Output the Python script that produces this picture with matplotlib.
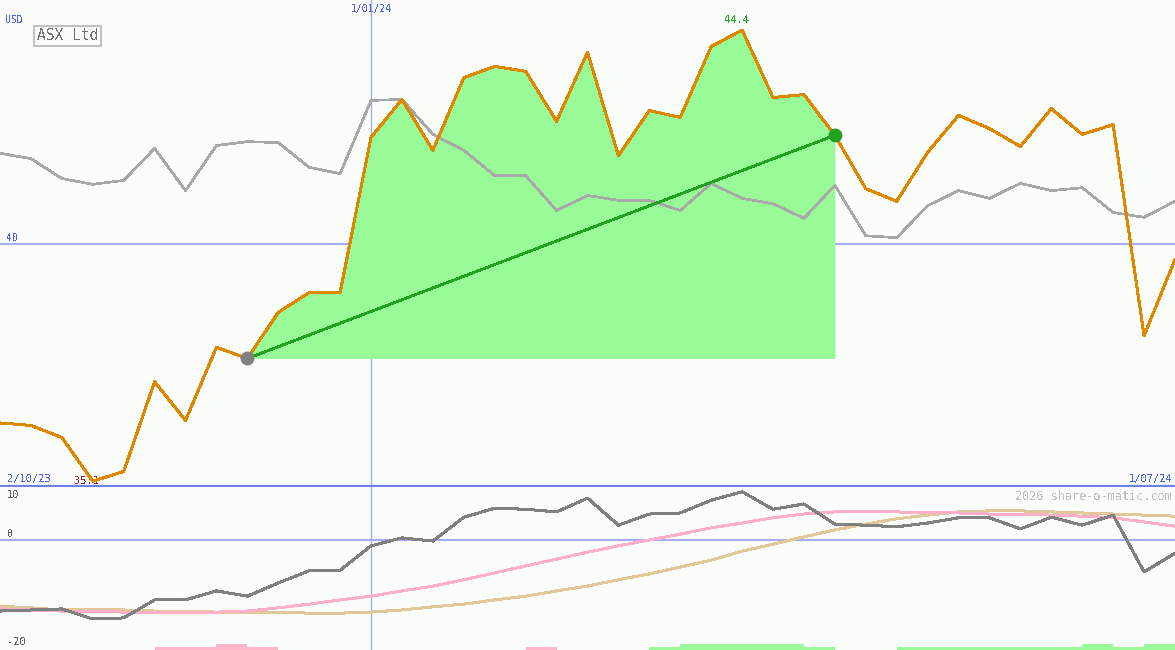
import numpy as np
import matplotlib
matplotlib.use("Agg")
import matplotlib.pyplot as plt

plt.rcParams['font.family'] = ['DejaVu Sans Mono']
plt.rcParams['text.antialiased'] = False

# weekly closes, ASX Ltd (USD), 2/10/23 .. 1/07/24
price = [36.3, 36.25, 36.0, 35.1, 35.3, 37.15, 36.35, 37.86, 37.63, 38.58,
         38.99, 38.99, 42.19, 42.97, 41.92, 43.42, 43.65, 43.55, 42.52, 43.94,
         41.81, 42.74, 42.6, 44.06, 44.4, 43.01, 43.07, 42.23, 41.13, 40.87,
         41.88, 42.64, 42.37, 42.0, 42.78, 42.25, 42.45, 38.1, 39.67]
# comparison index, rescaled to price axis
compare = [41.86, 41.75, 41.34, 41.22, 41.3, 41.96, 41.09, 42.02, 42.1, 42.08,
           41.57, 41.44, 42.95, 42.97, 42.25, 41.92, 41.4, 41.4, 40.68, 40.99,
           40.89, 40.89, 40.68, 41.24, 40.93, 40.82, 40.52, 41.2, 40.16, 40.12,
           40.78, 41.09, 40.93, 41.24, 41.09, 41.15, 40.64, 40.54, 40.87]
# lower panel indicators
momentum = [-13.4, -13.2, -13.0, -14.9, -14.7, -11.3, -11.3, -9.6, -10.6, -8.1,
            -5.8, -5.7, -1.1, 0.4, -0.2, 4.3, 6.0, 5.8, 5.3, 7.9,
            2.8, 4.9, 5.1, 7.5, 9.1, 5.8, 6.8, 3.0, 2.8, 2.5,
            3.2, 4.2, 4.2, 2.1, 4.3, 2.8, 4.7, -6.0, -2.5]
avg_fast = [-13.0, -13.2, -13.4, -13.4, -13.6, -13.6, -13.6, -13.6, -13.4, -12.8,
            -12.1, -11.3, -10.6, -9.6, -8.7, -7.5, -6.2, -4.9, -3.6, -2.3,
            -1.1, 0.0, 1.1, 2.3, 3.2, 4.2, 4.9, 5.3, 5.3, 5.3,
            5.1, 5.1, 4.9, 4.9, 4.7, 4.5, 4.2, 3.4, 2.6]
avg_slow = [-12.5, -12.8, -13.2, -13.2, -13.2, -13.4, -13.4, -13.6, -13.6, -13.6,
            -13.8, -13.8, -13.6, -13.2, -12.6, -12.1, -11.3, -10.6, -9.6, -8.7,
            -7.5, -6.4, -5.1, -3.8, -2.1, -0.8, 0.6, 1.9, 3.0, 4.0,
            4.7, 5.3, 5.5, 5.5, 5.3, 5.1, 4.9, 4.7, 4.5]
# signal bars per week interval (+ buy / - sell)
signal = [0, 0, 0, 0, 0, -1, -1, -2, -1, 0,
          0, 0, 0, 0, 0, 0, 0, -1, 0, 0,
          0, 1, 2, 2, 2, 2, 1, 0, 0, 1,
          1, 1, 1, 1, 1, 2, 1, 2]
date_labels = ["2/10/23", "1/01/24", "1/07/24"]
jan_idx = 12
start_idx = 8
end_idx = 27

x = np.arange(len(price))
bg = '#fbfdfb'
blue_line = '#a4acf4'
blue_text = '#5060f0'

fig = plt.figure(figsize=(11.75, 6.5), dpi=100, facecolor=bg)
ax = fig.add_axes([0, 163/650, 1, 487/650], facecolor=bg)
ax2 = fig.add_axes([0, 0, 1, 163/650], facecolor=bg)
for a in (ax, ax2):
    for s in a.spines.values():
        s.set_visible(False)
    a.set_xticks([])
    a.set_yticks([])
    a.set_xlim(0, len(price) - 1)

ax.set_ylim(34.98, 45.02)
ax2.set_ylim(-20.75, 10)

# main panel
ax.axhline(40, color=blue_line, lw=1.5, zorder=1)
ax.axvline(jan_idx, color=blue_line, lw=1, zorder=1)
ax.axhline(34.98, color='#7080e8', lw=3, zorder=5)

seg = slice(start_idx, end_idx + 1)
ax.fill_between(x[seg], price[start_idx], np.array(price)[seg], color='#98fb98', lw=0, zorder=2)
ax.plot(x, compare, color='#a8a8a8', lw=1.2, zorder=3, antialiased=False)
ax.plot(x, price, color='#dd8800', lw=1.45, zorder=4, antialiased=False)
ax.plot([start_idx, end_idx], [price[start_idx], price[end_idx]], color='#22a022', lw=1.3, zorder=5, antialiased=False)
ax.plot(start_idx, price[start_idx], 'o', color='#808080', ms=9, zorder=6)
ax.plot(end_idx, price[end_idx], 'o', color='#22a022', ms=9, zorder=6)

imax = int(np.argmax(price))
imin = int(np.argmin(price))
ax.annotate(f"{price[imax]:.1f}", (imax, price[imax]), xytext=(-4, 4), textcoords='offset points',
            ha='center', va='bottom', color='#22a022', fontsize=7.5)
ax.annotate(f"{price[imin]:.1f}", (imin, price[imin]), xytext=(-4, 0), textcoords='offset points',
            ha='center', va='center', color='#a02020', fontsize=7.5)

ax.text(5/1175, 1 - 20/487, "USD", transform=ax.transAxes, color=blue_text, fontsize=7, va='center')
ax.text(jan_idx, 1 - 9/487, date_labels[1], transform=ax.get_xaxis_transform(), color=blue_text,
        fontsize=7, ha='center', va='center')
ax.annotate("40", (0, 40), xytext=(5, 0.5), textcoords='offset points', color=blue_text, fontsize=7,
            ha='left', va='bottom')
ax.text(7/1175, 8/487, date_labels[0], transform=ax.transAxes, color=blue_text, fontsize=7.5, va='center')
ax.text(1 - 3/1175, 8/487, date_labels[2], transform=ax.transAxes, color=blue_text, fontsize=7.5,
        va='center', ha='right')
ax.text(37/1175, 1 - 36/487, "ASX Ltd", transform=ax.transAxes, color='#707070', fontsize=10.5, va='center',
        bbox=dict(boxstyle='square,pad=0.2', fc=bg, ec='#c0c0c0', lw=1.5))

# lower panel
ax2.axhline(0, color=blue_line, lw=1.5, zorder=1)
ax2.axvline(jan_idx, color=blue_line, lw=1, zorder=1)
ax2.plot(x, avg_slow, color='#e0c898', lw=1.45, zorder=3, antialiased=False)
ax2.plot(x, avg_fast, color='#ffb0c8', lw=1.45, zorder=3, antialiased=False)
ax2.plot(x, momentum, color='#808080', lw=1.45, zorder=4, antialiased=False)
sig = np.array(signal)
bar_cols = ['#98fb98' if s > 0 else '#ffb6c8' for s in sig]
ax2.bar(x[:-1], np.abs(sig) * 0.55, width=1, align='edge', bottom=-20.75, color=bar_cols, lw=0, zorder=2)

ax2.text(7/1175, 1 - 8/163, "10", transform=ax2.transAxes, color='#606060', fontsize=7.5, va='center')
ax2.annotate("0", (0, 0), xytext=(5, 1), textcoords='offset points', color='#606060', fontsize=7.5,
             ha='left', va='bottom')
ax2.text(7/1175, 8/163, "-20", transform=ax2.transAxes, color='#606060', fontsize=7.5, va='center')
ax2.text(1 - 3/1175, 1 - 9/163, "2026 share-o-matic.com", transform=ax2.transAxes, color='#c0c0c0',
         fontsize=8.5, ha='right', va='center')

fig.savefig("out.png", dpi=100, facecolor=bg)
